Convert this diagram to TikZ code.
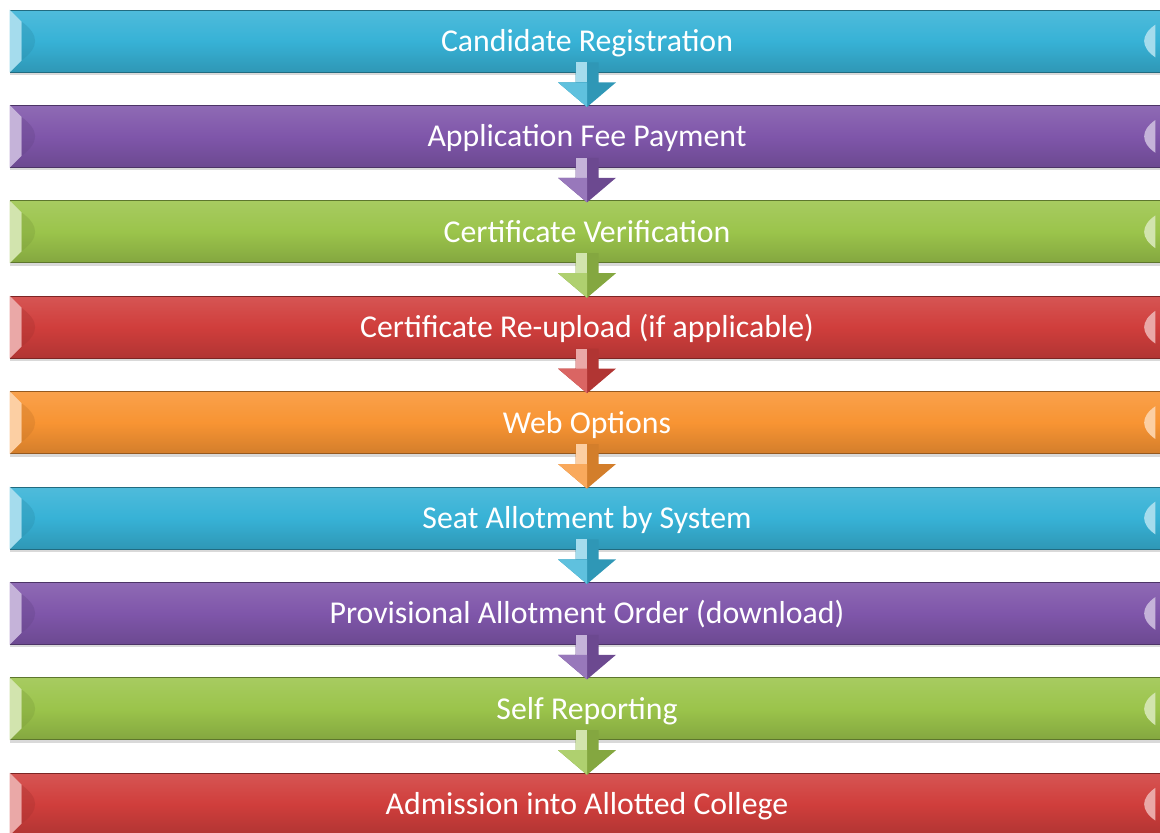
\documentclass[tikz,border=0pt]{standalone}
\usepackage{fontspec}
\setmainfont{Carlito}
\usetikzlibrary{calc,shadows}
\definecolor{cyanb}{RGB}{55,178,214}
\definecolor{purpleb}{RGB}{127,86,170}
\definecolor{greenb}{RGB}{155,196,75}
\definecolor{redb}{RGB}{208,62,60}
\definecolor{orangeb}{RGB}{248,148,51}
\tikzset{
  barbox/.style={minimum width=1154pt, minimum height=62pt, inner sep=0pt,
    text height=27pt, text depth=6pt,
    text=white, font=\fontsize{31.8}{34}\selectfont, line width=0.8pt,
    drop shadow={shadow xshift=0pt, shadow yshift=-3pt, opacity=0.3}},
  barcol/.style={top color=#1!88!white, bottom color=#1!85!black, middle color=#1, draw=#1!60!black},
  bevel/.style={fill=#1!45!white},
  arrowbody/.style={fill=#1!85!black},
  arrowlight/.style={fill=#1!45!white},
}
\begin{document}
\begin{tikzpicture}[x=1pt,y=-1pt]
\useasboundingbox (0,0) rectangle (1160,833);
\clip (0,0) rectangle (1160,833);
\foreach \i/\c/\t in {1/cyanb/Candidate Registration,
                      2/purpleb/Application Fee Payment,
                      3/greenb/Certificate Verification,
                      4/redb/Certificate Re-upload (if applicable),
                      5/orangeb/Web Options,
                      6/cyanb/Seat Allotment by System,
                      7/purpleb/Provisional Allotment Order (download),
                      8/greenb/Self Reporting,
                      9/redb/Admission into Allotted College}{
  \pgfmathsetmacro\yc{41+95.4*(\i-1)}
  \node[barbox, barcol=\c] (b\i) at (587,\yc) {\t};
  % left bevel
  \fill[bevel=\c] (b\i.north west) -- ($(b\i.north west)+(12,12)$)
      -- ($(b\i.south west)+(12,-12)$) -- (b\i.south west) -- cycle;
  \fill[\c!80!black, opacity=0.35] ($(b\i.north west)+(12,12)$)
      .. controls ($(b\i.west)+(30,-6)$) and ($(b\i.west)+(30,6)$) .. ($(b\i.south west)+(12,-12)$) -- cycle;
  % right bevel
  \fill[bevel=\c] ($(b\i.north east)+(-9,15)$)
      .. controls ($(b\i.east)+(-24,-6)$) and ($(b\i.east)+(-24,6)$) .. ($(b\i.south east)+(-9,-15)$) -- cycle;
}
\foreach \i/\j/\c in {1/2/cyanb,2/3/purpleb,3/4/greenb,4/5/redb,5/6/orangeb,6/7/cyanb,7/8/purpleb,8/9/greenb}{
  \fill[arrowbody=\c] ($(b\i.south)+(-11.5,-10)$) -- ($(b\i.south)+(11.5,-10)$)
      -- ($(b\i.south)+(11.5,10)$) -- ($(b\i.south)+(29,10)$) -- ($(b\j.north)+(0,2)$)
      -- ($(b\i.south)+(-29,10)$) -- ($(b\i.south)+(-11.5,10)$) -- cycle;
  \fill[arrowlight=\c] ($(b\i.south)+(-11.5,-10)$) -- ($(b\i.south)+(0,-10)$)
      -- ($(b\i.south)+(0,10)$) -- ($(b\i.south)+(-11.5,10)$) -- cycle;
  \fill[\c!80!white] ($(b\i.south)+(-29,10)$) -- ($(b\i.south)+(0,10)$) -- ($(b\j.north)+(0,2)$) -- cycle;
}
\end{tikzpicture}
\end{document}
